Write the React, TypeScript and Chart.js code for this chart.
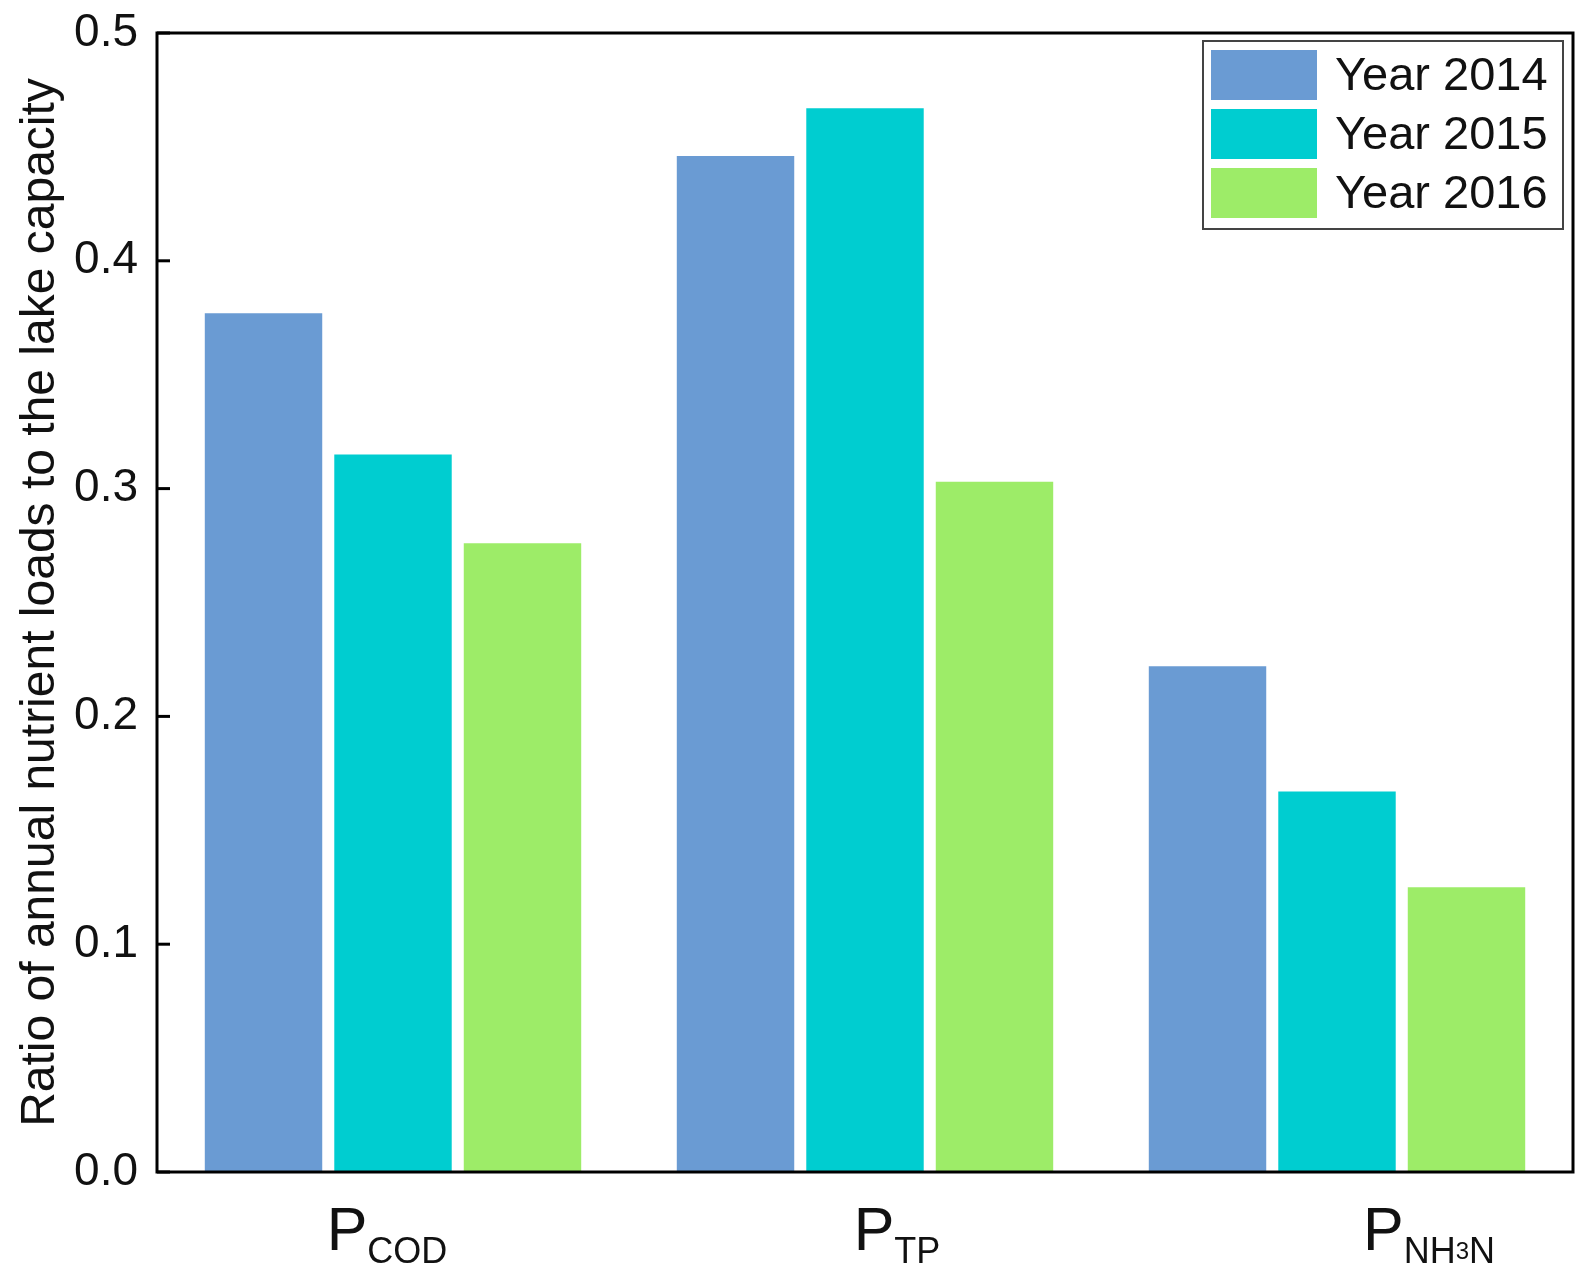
import { useEffect, useRef } from "react";
import { Chart, registerables } from "chart.js";

Chart.register(...registerables);

const categories = ["PCOD", "PTP", "PNH3N"];
const labelMain = ["P", "P", "P"];
// odd segments are set one step smaller (NH3N has a nested subscript 3)
const labelSub = [["COD"], ["TP"], ["NH", "3", "N"]];
const labelShift = [-6, 32, 92];

const years = ["Year 2014", "Year 2015", "Year 2016"];
const values2014 = [0.377, 0.446, 0.222];
const values2015 = [0.315, 0.467, 0.167];
const values2016 = [0.276, 0.303, 0.125];
const colors = ["#6A9BD3", "#00CDD0", "#9DEC68"];

const yTicks = [0, 0.1, 0.2, 0.3, 0.4, 0.5];

const FONT = "'Liberation Sans', Arial, sans-serif";

const framePlugin = {
  id: "frame",
  afterDraw(chart: any) {
    const { ctx, chartArea, scales } = chart;
    const { left, right, top, bottom } = chartArea;
    ctx.save();
    ctx.strokeStyle = "#000";
    ctx.lineWidth = 3;
    ctx.strokeRect(left, top, right - left, bottom - top);
    // inward ticks on the y axis
    for (const t of yTicks) {
      const y = scales.y.getPixelForValue(t);
      ctx.beginPath();
      ctx.moveTo(left, y);
      ctx.lineTo(left + 13, y);
      ctx.stroke();
    }

    // category labels with subscripts
    ctx.fillStyle = "#111";
    ctx.textBaseline = "alphabetic";
    ctx.textAlign = "left";
    const baseMain = bottom + 78;
    const baseSub = baseMain + 13;
    categories.forEach((_, i) => {
      ctx.font = `61px ${FONT}`;
      const wMain = ctx.measureText(labelMain[i]).width;
      let wSub = 0;
      labelSub[i].forEach((s, k) => {
        ctx.font = `${k % 2 ? 24 : 36}px ${FONT}`;
        wSub += ctx.measureText(s).width;
      });
      const cx = scales.x.getPixelForValue(i) + labelShift[i];
      let x = cx - (wMain + wSub) / 2;
      ctx.font = `61px ${FONT}`;
      ctx.fillText(labelMain[i], x, baseMain);
      x += wMain;
      labelSub[i].forEach((s, k) => {
        ctx.font = `${k % 2 ? 24 : 36}px ${FONT}`;
        ctx.fillText(s, x, k % 2 ? baseSub - 4 : baseSub);
        x += ctx.measureText(s).width;
      });
    });

    // legend box in the upper right corner
    const boxW = 360;
    const boxH = 188;
    const bx = right - 10 - boxW;
    const by = top + 8;
    ctx.fillStyle = "#fff";
    ctx.fillRect(bx, by, boxW, boxH);
    ctx.strokeStyle = "#444";
    ctx.lineWidth = 2;
    ctx.strokeRect(bx, by, boxW, boxH);
    ctx.font = `47px ${FONT}`;
    ctx.textBaseline = "middle";
    chart.data.datasets.forEach((ds: any, i: number) => {
      const sy = by + 9 + i * 59;
      ctx.fillStyle = ds.backgroundColor;
      ctx.fillRect(bx + 8, sy, 106, 50);
      ctx.fillStyle = "#111";
      ctx.fillText(ds.label, bx + 132, sy + 27);
    });
    ctx.restore();
  },
};

export default function App() {
  const canvasRef = useRef<HTMLCanvasElement>(null);
  const chartRef = useRef<Chart | null>(null);

  useEffect(() => {
    document.body.style.margin = "0";
    if (!canvasRef.current) return;
    if (chartRef.current) chartRef.current.destroy();

    const series = [values2014, values2015, values2016];

    chartRef.current = new Chart(canvasRef.current, {
      type: "bar",
      data: {
        labels: categories,
        datasets: years.map((label, i) => ({
          label,
          data: series[i],
          backgroundColor: colors[i],
          borderWidth: 0,
          categoryPercentage: 0.823,
          barPercentage: 0.907,
        })),
      },
      options: {
        animation: false,
        responsive: true,
        maintainAspectRatio: false,
        layout: { padding: { left: 0, top: 33, right: 19, bottom: 112 } },
        plugins: {
          legend: { display: false },
          tooltip: { enabled: false },
        },
        scales: {
          x: {
            ticks: { display: false },
            grid: { display: false, drawTicks: false },
            border: { display: false },
            afterFit: (s: any) => {
              s.height = 0;
              s.paddingLeft = 0;
              s.paddingRight = 0;
            },
          },
          y: {
            min: 0,
            max: 0.5,
            ticks: {
              stepSize: 0.1,
              padding: 19,
              color: "#111",
              font: { family: FONT, size: 46 },
              callback: (v: any) => Number(v).toFixed(1),
            },
            grid: { display: false, drawTicks: false },
            border: { display: false },
            title: {
              display: true,
              text: "Ratio of annual nutrient loads to the lake capacity",
              color: "#111",
              font: { family: FONT, size: 48 },
              padding: { top: 12, bottom: 0 },
            },
            afterFit: (s: any) => {
              s.width = 157;
              s.paddingTop = 0;
              s.paddingBottom = 0;
            },
          },
        },
      },
      plugins: [framePlugin],
    });

    return () => {
      if (chartRef.current) {
        chartRef.current.destroy();
        chartRef.current = null;
      }
    };
  }, []);

  return (
    <div style={{ width: 1592, height: 1284, background: "#fff" }}>
      <canvas ref={canvasRef}></canvas>
    </div>
  );
}
